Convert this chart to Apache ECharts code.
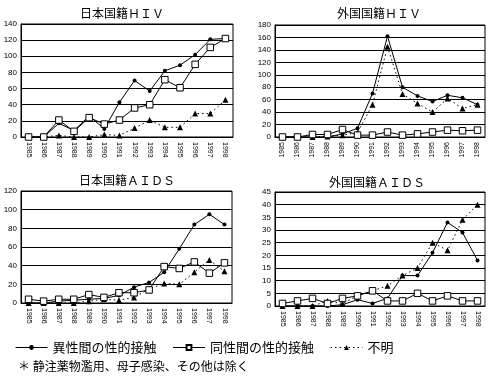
<!DOCTYPE html>
<html><head><meta charset="utf-8">
<script src="https://cdn.jsdelivr.net/npm/echarts@6/dist/echarts.min.js"></script>
<style>html,body{margin:0;padding:0;background:#fff}#c{width:492px;height:380px}</style>
</head><body><div id="c"></div>
<script>
const years = ['1985','1986','1987','1988','1989','1990','1991','1992','1993','1994','1995','1996','1997','1998'];
const seriesNames = ['異性間の性的接触','同性間の性的接触','不明'];
const panelTitles = ['日本国籍ＨＩＶ','外国国籍ＨＩＶ','日本国籍ＡＩＤＳ','外国国籍ＡＩＤＳ'];
const footnote = '＊ 静注薬物濫用、母子感染、その他は除く';

const jpHivHetero   = [0,0,17,8,26,10,43,70,57,82,89,102,121,122];
const jpHivHomo     = [0,0,21,7,24,16,21,36,40,71,61,90,111,122];
const jpHivUnknown  = [0,0,2,0,0,3,2,11,21,12,12,29,29,46];

const frHivHetero   = [0,0,0,0,5,14,70,162,80,66,57,67,63,52];
const frHivHomo     = [0,0,4,4,12,3,3,8,3,5,8,11,10,11];
const frHivUnknown  = [0,0,0,1,3,7,52,145,69,54,40,62,46,52];

const jpAidsHetero  = [0,0,2,3,4,5,8,17,22,33,58,84,95,84];
const jpAidsHomo    = [4,2,4,4,9,6,11,11,14,39,37,44,32,43];
const jpAidsUnknown = [0,0,0,0,2,4,3,6,15,21,20,33,46,34];

const frAidsHetero  = [0,0,0,0,0.5,2.5,1,3,12,12,21,33,29,18];
const frAidsHomo    = [1,2,3,1,3,4,6,2,2,5,2,4,2,2];
const frAidsUnknown = [0,0,0,2,1,4,6,8,12,15,25,22,34,40];

const yMax = [140,180,120,45];
const yStep = [20,20,20,5];
const panelData = [
  [jpHivHetero, jpHivHomo, jpHivUnknown],
  [frHivHetero, frHivHomo, frHivUnknown],
  [jpAidsHetero, jpAidsHomo, jpAidsUnknown],
  [frAidsHetero, frAidsHomo, frAidsUnknown]
];

const grids = [
  {left:21, top:24, width:212, height:113},
  {left:275, top:25, width:210, height:112},
  {left:21, top:191, width:211, height:112},
  {left:275, top:192, width:210, height:114}
];
const titlePos = [[122,13],[379,13],[127,180],[377,182]];
const labelRot = [-90,90,-90,-90];

const font = '"Noto Sans CJK JP", "Noto Sans", sans-serif';
const numFont = '"Liberation Sans", Arial, sans-serif';

const xAxis = [], yAxis = [], series = [], graphic = [];
grids.forEach((g,i) => {
  g.show = true; g.borderColor = '#000'; g.borderWidth = 1; g.containLabel = false;
  xAxis.push({
    type:'category', gridIndex:i, data:years, boundaryGap:true,
    axisLine:{show:true, lineStyle:{color:'#000', width:1}},
    axisTick:{show:false},
    axisLabel:{rotate:labelRot[i], fontSize:7, color:'#000', margin:5, fontFamily:numFont, interval:0},
    splitLine:{show:false}
  });
  yAxis.push({
    type:'value', gridIndex:i, min:0, max:yMax[i], interval:yStep[i],
    axisLine:{show:true, lineStyle:{color:'#000', width:1}},
    axisTick:{show:false},
    axisLabel:{fontSize:8, color:'#000', margin:4, fontFamily:numFont},
    splitLine:{show:true, lineStyle:{color:'#000', width:1}}
  });
  const d = panelData[i];
  series.push({
    name:seriesNames[0], type:'line', xAxisIndex:i, yAxisIndex:i, data:d[0],
    symbol:'circle', symbolSize:4,
    lineStyle:{color:'#000', width:1}, itemStyle:{color:'#000'}, z:3
  });
  series.push({
    name:seriesNames[1], type:'line', xAxisIndex:i, yAxisIndex:i, data:d[1],
    symbol:'rect', symbolSize:6.5,
    lineStyle:{color:'#000', width:1}, itemStyle:{color:'#fff', borderColor:'#000', borderWidth:1}, z:4
  });
  series.push({
    name:seriesNames[2], type:'line', xAxisIndex:i, yAxisIndex:i, data:d[2],
    symbol:'triangle', symbolSize:6,
    lineStyle:{color:'#000', width:1, type:[1.5,3]}, itemStyle:{color:'#000'}, z:2
  });
  graphic.push({
    type:'text', x:titlePos[i][0], y:titlePos[i][1],
    style:{text:panelTitles[i], font:'12px ' + font, fill:'#000', textAlign:'center', textVerticalAlign:'middle'}
  });
});
graphic.push({
  type:'text', x:18, y:366,
  style:{text:footnote, font:'12px ' + font, fill:'#000', textAlign:'left', textVerticalAlign:'middle'}
});

const chart = echarts.init(document.getElementById('c'), null, {renderer:'canvas'});
chart.setOption({
  animation:false,
  backgroundColor:'#fff',
  grid:grids, xAxis:xAxis, yAxis:yAxis, series:series, graphic:graphic,
  legend:{
    data:seriesNames, left:15, top:341, padding:0, itemWidth:32, itemHeight:6, itemGap:16,
    lineStyle:{width:1},
    textStyle:{fontSize:13, color:'#000', fontFamily:font}
  }
});
</script></body></html>
